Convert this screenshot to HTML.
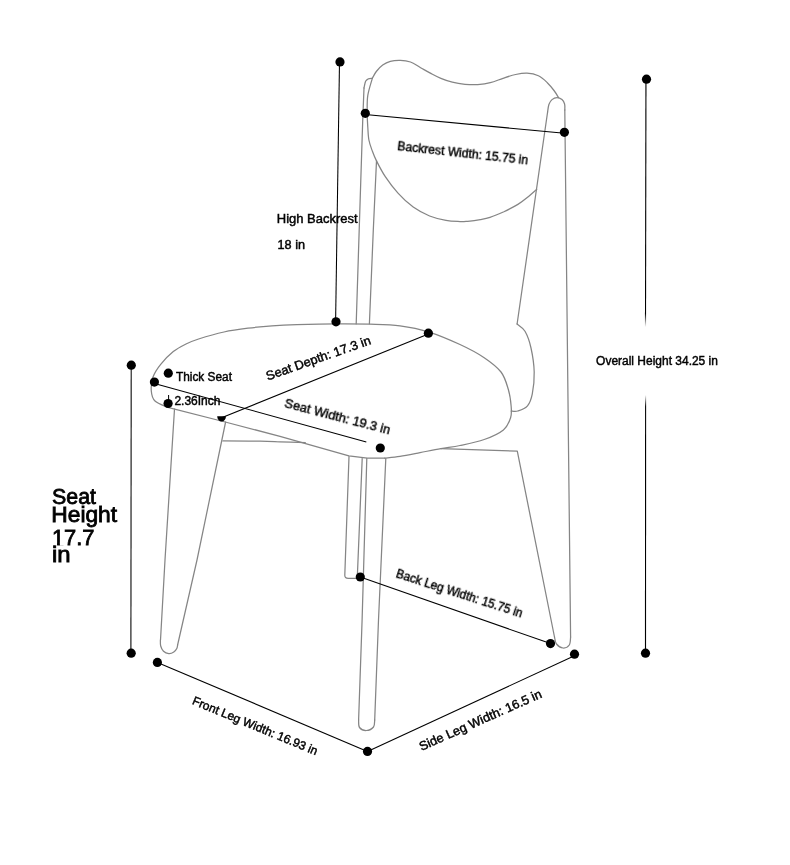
<!DOCTYPE html>
<html><head><meta charset="utf-8"><style>
html,body{margin:0;padding:0;background:#fff;width:790px;height:865px;overflow:hidden}
body{position:relative;font-family:"Liberation Sans",sans-serif}
</style></head><body>
<svg width="790" height="865" viewBox="0 0 790 865" style="position:absolute;left:0;top:0">
<defs><linearGradient id="g1" x1="0" y1="0" x2="0" y2="1"><stop offset="0" stop-color="#000"/><stop offset="0.945" stop-color="#000"/><stop offset="1" stop-color="#000" stop-opacity="0"/></linearGradient><linearGradient id="g2" x1="0" y1="0" x2="0" y2="1"><stop offset="0" stop-color="#000" stop-opacity="0"/><stop offset="0.045" stop-color="#000"/><stop offset="1" stop-color="#000"/></linearGradient></defs>
<g fill="none" stroke="#858585" stroke-width="1.25" stroke-linejoin="round" stroke-linecap="round">
<path d="M356.2,323.8 L360.8,180.0 L362.7,120.9 L364.0,88.0 "/>
<path d="M364.0,88.0 C364.3,86.9 364.9,82.7 365.6,81.2 C366.4,79.7 367.4,79.3 368.5,78.8 C369.6,78.3 371.7,78.4 372.3,78.3"/>
<path d="M372.3,78.3 C373.0,77.2 374.6,73.7 376.3,71.5 C378.0,69.3 380.4,66.8 382.7,65.1 C385.0,63.4 387.4,62.1 390.3,61.3 C393.2,60.5 397.0,60.2 400.4,60.3 C403.8,60.4 407.1,60.8 410.5,62.0 C413.9,63.2 417.2,65.8 420.6,67.7 C424.0,69.6 427.4,71.6 430.8,73.4 C434.2,75.2 437.3,76.9 440.9,78.4 C444.5,79.9 448.3,81.2 452.3,82.2 C456.3,83.2 460.8,83.9 465.0,84.3 C469.2,84.7 473.5,84.9 477.7,84.6 C481.9,84.3 486.1,83.8 490.3,82.7 C494.5,81.7 498.8,79.7 503.0,78.3 C507.2,76.9 511.6,75.3 515.6,74.5 C519.6,73.7 523.2,73.0 527.0,73.2 C530.8,73.4 535.0,74.2 538.4,75.8 C541.8,77.4 544.7,80.2 547.3,82.7 C549.9,85.2 552.1,88.0 554.0,90.5 C555.9,93.0 557.8,96.3 558.5,97.5"/>
<path d="M372.3,78.3 C371.6,81.2 368.7,89.6 367.8,95.4 C366.9,101.2 367.2,108.0 367.2,113.3 C367.2,118.6 367.5,122.8 367.8,127.3 C368.1,131.8 368.2,136.2 368.9,140.0 C369.6,143.8 370.7,146.6 372.0,150.1 C373.3,153.6 374.3,156.5 376.5,160.9 C378.7,165.3 381.7,171.3 385.3,176.7 C388.9,182.1 393.4,188.1 398.0,193.2 C402.6,198.3 407.9,203.3 413.2,207.1 C418.5,210.9 424.1,213.8 429.6,216.0 C435.1,218.2 440.9,219.5 446.0,220.4 C451.1,221.3 456.4,221.4 460.0,221.6 C463.6,221.8 464.3,221.6 467.7,221.3 C471.1,221.0 476.6,220.3 480.3,219.6 C484.0,218.9 486.1,218.6 490.0,217.3 C493.9,216.0 499.2,213.8 503.9,211.7 C508.5,209.5 513.8,206.9 517.9,204.4 C522.0,201.9 525.2,199.2 528.3,196.7 C531.4,194.2 535.3,190.6 536.7,189.4"/>
<path d="M376.5,160.9 L373.3,230.0 L369.4,323.8"/>
<path d="M517.1,324.0 L547.6,112.0"/>
<path d="M547.6,112.0 C547.8,110.8 548.2,106.6 548.9,104.5 C549.6,102.4 550.6,100.8 552.0,99.6 C553.4,98.4 555.3,97.6 557.0,97.6 C558.7,97.6 560.7,98.5 562.0,99.6 C563.3,100.7 564.1,102.3 564.6,104.0 C565.1,105.7 564.8,109.0 564.8,110.0"/>
<path d="M564.8,110.0 L570.6,637.0"/>
<path d="M570.6,637.0 C570.4,638.3 570.6,643.2 569.3,645.0 C568.0,646.8 565.1,648.2 563.0,648.0 C560.9,647.8 557.9,645.8 556.5,644.0 C555.1,642.2 554.8,638.2 554.5,637.0"/>
<path d="M554.5,637.0 L517.3,451.2 L440.9,448.6"/>
<path d="M167.8,407.4 C165.7,406.3 157.8,403.7 155.0,401.0 C152.2,398.3 151.6,395.0 151.3,391.0 C151.0,387.0 151.4,381.4 153.0,377.0 C154.6,372.6 157.3,368.5 160.7,364.3 C164.1,360.1 169.1,355.0 173.3,351.6 C177.5,348.2 181.8,346.1 186.0,344.0 C190.2,341.9 192.3,341.0 198.6,339.0 C204.9,337.0 215.8,333.8 224.0,332.0 C232.2,330.2 240.0,329.2 248.0,328.2 C256.0,327.2 263.9,326.4 272.0,325.8 C280.1,325.2 286.2,324.9 296.9,324.6 C307.6,324.3 323.9,324.0 336.1,323.9 C348.3,323.8 359.4,323.9 370.0,324.2 C380.6,324.5 390.3,324.5 400.0,325.8 C409.7,327.1 418.4,328.7 428.4,331.8 C438.4,334.9 450.7,340.2 460.0,344.5 C469.3,348.8 477.4,353.1 484.2,357.7 C491.0,362.3 497.0,366.8 501.0,372.0 C505.0,377.2 506.5,383.4 508.2,389.0 C509.9,394.6 510.7,401.0 511.1,405.8 C511.5,410.6 511.9,413.8 510.6,417.8 C509.3,421.8 507.8,426.3 503.4,429.9 C499.0,433.5 491.4,436.9 484.2,439.5 C477.0,442.1 467.2,444.0 460.0,445.5 C452.8,447.0 447.6,447.4 440.9,448.6 C434.2,449.8 426.8,451.3 420.0,452.6 C413.2,453.9 405.9,455.4 400.0,456.3 C394.1,457.2 387.3,457.8 384.8,458.1"/>
<path d="M384.8,458.1 L367.2,458.1 L348.9,455.9 L280.0,436.3 L225.2,422.0 L167.8,407.4"/>
<path d="M517.1,324.0 C518.4,325.2 522.7,327.3 525.0,331.3 C527.3,335.3 529.5,341.2 531.0,348.0 C532.5,354.8 534.0,364.4 534.2,372.0 C534.4,379.6 533.4,388.2 532.3,393.8 C531.2,399.4 529.9,402.9 527.5,405.8 C525.1,408.7 520.5,410.1 517.8,411.0 C515.1,411.9 512.2,411.0 511.1,411.0"/>
<path d="M174.5,409.0 L165.0,560.0 L160.5,640.0"/>
<path d="M160.4,640.0 C160.4,641.0 160.2,644.1 160.7,646.0 C161.2,647.9 162.2,649.9 163.5,651.2 C164.8,652.5 167.1,653.5 168.8,653.6 C170.5,653.7 172.5,652.9 173.8,652.0 C175.1,651.1 176.2,649.7 176.8,648.5 C177.4,647.3 177.5,645.6 177.6,645.0"/>
<path d="M177.6,645.0 L197.0,560.0 L225.6,422.0"/>
<path d="M222.9,440.9 C229.1,440.9 250.5,441.0 260.0,441.2 C269.5,441.4 272.4,441.6 280.0,441.9 C287.6,442.1 301.1,442.6 305.3,442.7"/>
<path d="M349,456.5 L344.8,575 Q344.7,578.4 348.2,578.4 L356.3,578.4"/>
<path d="M357.3,577.3 L362.2,458.5"/>
<path d="M366.8,458.5 L362.1,620.0 L358.6,720.0"/>
<path d="M358.6,720.0 C358.8,721.2 358.2,725.8 359.5,727.5 C360.8,729.2 364.1,730.6 366.4,730.5 C368.7,730.4 372.1,728.8 373.5,727.0 C374.9,725.2 374.5,721.2 374.7,720.0"/>
<path d="M374.7,720.0 L378.5,620.0 L385.8,458.5"/>
</g>
<g stroke="#000" stroke-width="1.05" fill="none">
<line x1="339.5" y1="62" x2="335.6" y2="321.5"/>
<line x1="365.3" y1="114.6" x2="564.4" y2="133.2"/>
<line x1="428.4" y1="334.0" x2="221.6" y2="417.8"/>
<line x1="154.4" y1="383.4" x2="366.3" y2="442.1"/>
<line x1="131.2" y1="365.2" x2="130.9" y2="653.2"/>
<line x1="360.3" y1="577" x2="550.5" y2="643.6"/>
<line x1="157.4" y1="662.4" x2="367.5" y2="751.4"/>
<line x1="367.5" y1="751.5" x2="574.5" y2="655.8"/>
</g>
<path d="M646.5,79.2 L646.05,327 L644.95,327 L645.4,79.2 Z" fill="url(#g1)"/>
<path d="M646.15,395 L646.05,653.2 L644.95,653.2 L645.05,395 Z" fill="url(#g2)"/>
<line x1="168.6" y1="395" x2="168.6" y2="401" stroke="#000" stroke-width="1"/>
<g fill="#000">
<circle cx="340" cy="61.9" r="4.6"/>
<circle cx="336" cy="321.8" r="4.6"/>
<circle cx="365.3" cy="113.3" r="4.6"/>
<circle cx="564.4" cy="132.3" r="4.6"/>
<circle cx="646.5" cy="79.2" r="4.6"/>
<circle cx="645.5" cy="653.2" r="4.6"/>
<circle cx="428.4" cy="333.2" r="4.6"/>
<circle cx="154.4" cy="382.1" r="4.6"/>
<circle cx="380.3" cy="448" r="4.6"/>
<circle cx="168.3" cy="373.2" r="4.6"/>
<circle cx="168.1" cy="403.5" r="4.6"/>
<circle cx="131.3" cy="365.2" r="4.6"/>
<circle cx="131.2" cy="653.2" r="4.6"/>
<circle cx="360.3" cy="577" r="4.6"/>
<circle cx="550.5" cy="643.6" r="4.6"/>
<circle cx="157.4" cy="662.4" r="4.6"/>
<circle cx="367.5" cy="751.4" r="4.6"/>
<circle cx="574.5" cy="654.2" r="4.6"/>
</g>
<path d="M217.2,416.3 L226,416.3 A4.4,5.2 0 0 1 217.2,416.3 Z" fill="#000"/>
<g font-family="Liberation Sans, sans-serif" fill="#000" stroke="#000" style="opacity:0.999">
<text x="276.76" y="223.00" font-size="12.8" textLength="80.90" lengthAdjust="spacingAndGlyphs" stroke-width="0.45">High Backrest</text>
<text x="277.59" y="248.70" font-size="12.5" textLength="27.48" lengthAdjust="spacingAndGlyphs" stroke-width="0.45">18 in</text>
<text x="397.14" y="150.09" font-size="12" textLength="131.38" lengthAdjust="spacingAndGlyphs" stroke-width="0.45" transform="rotate(6.29 397.14 150.09)">Backrest Width: 15.75 in</text>
<text x="596.10" y="364.70" font-size="12" textLength="121.85" lengthAdjust="spacingAndGlyphs" stroke-width="0.45">Overall Height 34.25 in</text>
<text x="175.96" y="380.70" font-size="12" textLength="55.99" lengthAdjust="spacingAndGlyphs" stroke-width="0.45">Thick Seat</text>
<text x="174.40" y="404.50" font-size="12" textLength="46.10" lengthAdjust="spacingAndGlyphs" stroke-width="0.45">2.36Inch</text>
<text x="267.89" y="380.41" font-size="12.6" textLength="110.20" lengthAdjust="spacingAndGlyphs" stroke-width="0.45" transform="rotate(-19.38 267.89 380.41)">Seat Depth: 17.3 in</text>
<text x="283.88" y="407.04" font-size="12.6" textLength="108.69" lengthAdjust="spacingAndGlyphs" stroke-width="0.45" transform="rotate(14.59 283.88 407.04)">Seat Width: 19.3 in</text>
<text x="395.19" y="576.61" font-size="12" textLength="132.37" lengthAdjust="spacingAndGlyphs" stroke-width="0.45" transform="rotate(17.88 395.19 576.61)">Back Leg Width: 15.75 in</text>
<text x="191.41" y="703.83" font-size="12" textLength="134.49" lengthAdjust="spacingAndGlyphs" stroke-width="0.45" transform="rotate(22.51 191.41 703.83)">Front Leg Width: 16.93 in</text>
<text x="421.41" y="750.96" font-size="12.6" textLength="132.75" lengthAdjust="spacingAndGlyphs" stroke-width="0.45" transform="rotate(-23.97 421.41 750.96)">Side Leg Width: 16.5 in</text>
<text x="52.03" y="503.50" font-size="21.5" textLength="43.92" lengthAdjust="spacingAndGlyphs" stroke-width="0.8">Seat</text>
<text x="51.28" y="521.80" font-size="21.5" textLength="65.86" lengthAdjust="spacingAndGlyphs" stroke-width="0.8">Height</text>
<text x="51.95" y="544.60" font-size="21.5" textLength="42.56" lengthAdjust="spacingAndGlyphs" stroke-width="0.8">17.7</text>
<text x="52.03" y="561.60" font-size="21.5" textLength="18.61" lengthAdjust="spacingAndGlyphs" stroke-width="0.8">in</text>
</g>
<rect x="52" y="542.5" width="5" height="2.5" fill="#fff"/><rect x="55.8" y="544.9" width="1.4" height="0.8" fill="#fff"/><rect x="59.9" y="542.5" width="5" height="3.2" fill="#fff"/>
</svg>
</body></html>
